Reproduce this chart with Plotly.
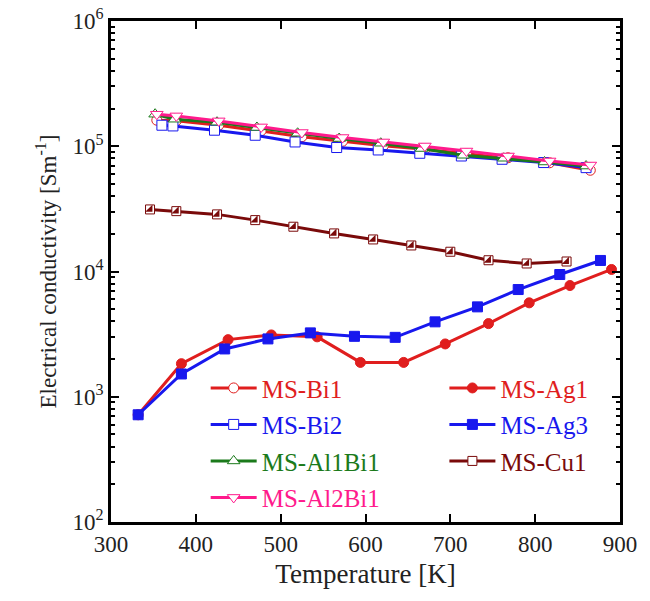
import plotly.graph_objects as go

# ---- data ----
T_bi1 = [354, 377, 427, 477, 525, 573, 621, 670, 719, 768, 817, 865]
s_bi1 = [161400, 160000, 147200, 133000, 119100, 109600, 100900, 94600, 87100, 80900, 73800, 64300]

T_bi2 = [360, 373, 422, 470, 517, 566, 615, 664, 713, 761, 810, 860]
s_bi2 = [147200, 145300, 134300, 122400, 108200, 97700, 93400, 87900, 83600, 78700, 74100, 67500]

T_al1 = [352, 375, 425, 472, 520, 569, 618, 666, 715, 763, 811, 860]
s_al1 = [180300, 164400, 155600, 141200, 127000, 115300, 105700, 95900, 84700, 80200, 74900, 69500]

T_al2 = [354, 377, 427, 477, 525, 573, 621, 670, 719, 768, 817, 865]
s_al2 = [180300, 174700, 159400, 142700, 128700, 117400, 108200, 100500, 91600, 83600, 76300, 70800]

T_ag1 = [332, 383, 438, 489, 543, 594, 645, 694, 745, 793, 841, 890]
s_ag1 = [718, 1837, 2858, 3116, 3008, 1880, 1880, 2640, 3837, 5620, 7727, 10380]

T_ag3 = [332, 383, 434, 485, 535, 587, 635, 682, 732, 780, 829, 877]
s_ag3 = [718, 1520, 2408, 2896, 3235, 3037, 2980, 3963, 5220, 7178, 9460, 12250]

T_cu1 = [346, 377, 425, 470, 515, 563, 609, 654, 700, 745, 790, 837]
s_cu1 = [31300, 30340, 28580, 25720, 22780, 20140, 18030, 16140, 14380, 12300, 11590, 12020]

ytick_vals = [1e2, 1e3, 1e4, 1e5, 1e6]
ytick_text = ["10<sup>2</sup>", "10<sup>3</sup>", "10<sup>4</sup>", "10<sup>5</sup>", "10<sup>6</sup>"]
xtick_vals = [300, 400, 500, 600, 700, 800, 900]

RED = "#e01e1e"
BLUE = "#1818ee"
GREEN = "#1b7a1b"
PINK = "#ff1a8c"
DRED = "#7a0a0a"

def lab(name, color):
    return f'<span style="color:{color}">{name}</span>'

fig = go.Figure()

def add(T, s, name, color, symbol, legend, fill="white", size=10, showlegend=True, group=None):
    fig.add_trace(go.Scatter(
        x=T, y=s, mode="lines+markers", name=lab(name, color),
        line=dict(color=color, width=3),
        marker=dict(symbol=symbol, size=size, color=fill, line=dict(color=color, width=1)),
        legend=legend, showlegend=showlegend, legendgroup=group or name,
    ))

add(T_bi1, s_bi1, "MS-Bi1", RED, "circle", "legend")
add(T_bi2, s_bi2, "MS-Bi2", BLUE, "square", "legend")
add(T_al1, s_al1, "MS-Al1Bi1", GREEN, "triangle-up", "legend", size=11)
add(T_al2, s_al2, "MS-Al2Bi1", PINK, "triangle-down", "legend", size=11)
add(T_ag1, s_ag1, "MS-Ag1", RED, "circle", "legend2", fill=RED)
add(T_ag3, s_ag3, "MS-Ag3", BLUE, "square", "legend2", fill=BLUE)
add(T_cu1, s_cu1, "MS-Cu1", DRED, "square", "legend2", fill="white", size=9)
fig.add_trace(go.Scatter(
    x=T_cu1, y=s_cu1, mode="markers", showlegend=False, legendgroup="MS-Cu1",
    marker=dict(symbol="triangle-se", size=8, color=DRED, line=dict(width=0)),
    legend="legend2",
))

font = "Liberation Serif, Times New Roman, serif"

fig.update_layout(
    width=650, height=601,
    margin=dict(l=111, r=30, t=21, b=79),
    paper_bgcolor="white", plot_bgcolor="white",
    font=dict(family=font, size=23, color="#222"),
    legend=dict(x=0.186, y=0.313, xanchor="left", yanchor="top", itemwidth=46,
                bgcolor="rgba(0,0,0,0)", font=dict(size=25),
                traceorder="grouped", tracegroupgap=1),
    legend2=dict(x=0.655, y=0.313, xanchor="left", yanchor="top", itemwidth=46,
                 bgcolor="rgba(0,0,0,0)", font=dict(size=25),
                 traceorder="grouped", tracegroupgap=1),
    xaxis=dict(
        range=[300, 900], tickvals=xtick_vals, automargin=False,
        ticklabeloverflow="allow",
        showgrid=False, zeroline=False,
        showline=True, linecolor="black", linewidth=2.5, mirror="allticks",
        ticks="inside", ticklen=8, tickwidth=2, tickcolor="black",
        title=dict(text="Temperature [K]", font=dict(size=27), standoff=8),
    ),
    yaxis=dict(
        type="log", range=[2, 6], tickvals=ytick_vals, ticktext=ytick_text,
        automargin=False, ticklabeloverflow="allow",
        tickfont=dict(size=23),
        showgrid=False, zeroline=False,
        showline=True, linecolor="black", linewidth=2.5, mirror="allticks",
        ticks="inside", ticklen=8, tickwidth=2, tickcolor="black",
        minor=dict(ticks="inside", ticklen=4, tickwidth=1.5, tickcolor="black", dtick="D1"),
        title=dict(text="Electrical conductivity [Sm<sup>-1</sup>]", font=dict(size=23), standoff=10),
    ),
)

fig.write_html("out.html", config={"displayModeBar": False},
               post_script="document.body.style.margin='0';")
